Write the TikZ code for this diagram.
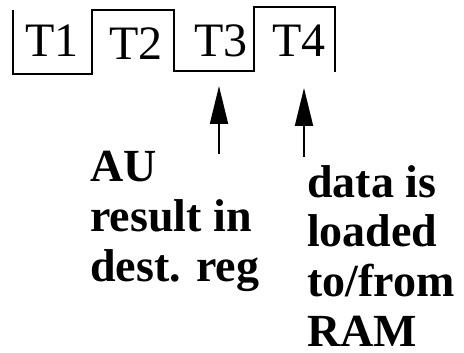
\documentclass[tikz,border=0pt]{standalone}
\usepackage{fontspec}
\setmainfont{Liberation Serif}
\usetikzlibrary{arrows.meta}
\begin{document}
\begin{tikzpicture}[x=1pt,y=-1pt,
  stage/.style={line width=2pt, line join=miter},
  tlabel/.style={inner sep=0pt, anchor=base, font=\fontsize{48}{52}\selectfont},
  note/.style={inner sep=0pt, anchor=base west, font=\fontsize{46}{50}\selectfont\bfseries},
  pointer/.style={line width=2pt, -{Triangle[length=38pt,width=18pt]}}]
\useasboundingbox (0,0) rectangle (464,353);
% staggered timing line of the four steps
\draw[stage] (13,10) -- (13,74) -- (92,74) -- (92,10) -- (174,10) -- (174,71)
  -- (254,71) -- (254,7) -- (335,7) -- (335,72);
\node[tlabel] (t1) at (52,57) {T1};
\node[tlabel] (t2) at (136,60) {T2};
\node[tlabel] (t3) at (221,57) {T3};
\node[tlabel] (t4) at (299,57) {T4};
% pointers to the steps
\coordinate (p3) at (219,154);
\coordinate (h3) at (219,86);
\coordinate (p4) at (304,157);
\coordinate (h4) at (304,88);
\draw[pointer] (p3) -- (h3);
\draw[pointer] (p4) -- (h4);
% notes
\node[note] (au) at (90,182) {\begin{tabular}[t]{@{}l@{}}AU\\result in\\dest. reg\end{tabular}};
\node[note] (ram) at (307,197) {\begin{tabular}[t]{@{}l@{}}data is\\loaded\\to/from\\RAM\end{tabular}};
\end{tikzpicture}
\end{document}
